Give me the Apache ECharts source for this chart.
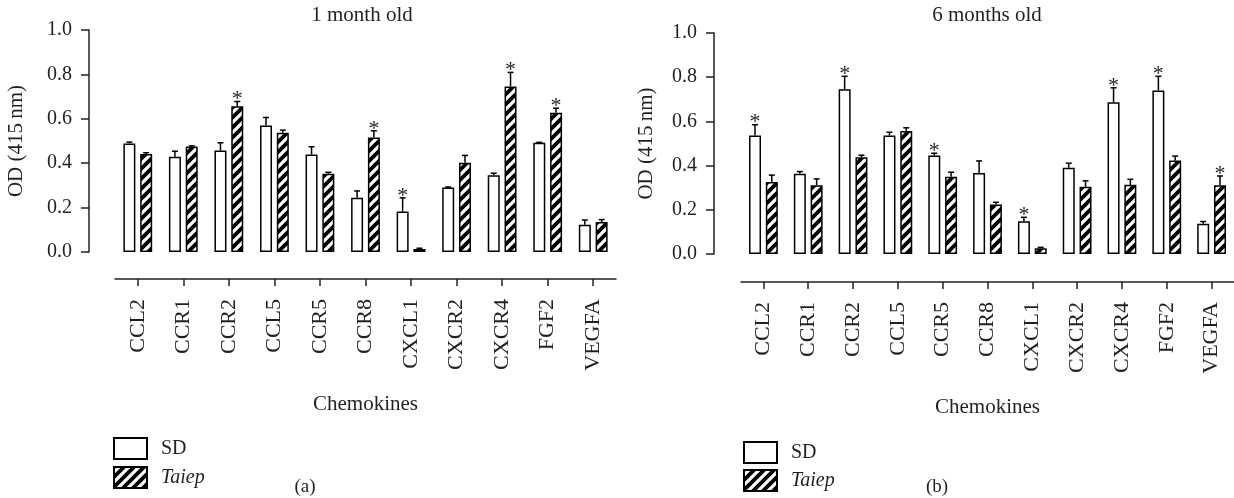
<!DOCTYPE html>
<html>
<head>
<meta charset="utf-8">
<script src="https://cdn.jsdelivr.net/npm/echarts@6/dist/echarts.min.js"></script>
<style>
html,body{margin:0;padding:0;background:#fff;}
#chart{width:1234px;height:498px;}
</style>
</head>
<body>
<div id="chart"></div>
<script>
// ---- data ----
const categories = ['CCL2','CCR1','CCR2','CCL5','CCR5','CCR8','CXCL1','CXCR2','CXCR4','FGF2','VEGFA'];
const yTicks = [0, 0.2, 0.4, 0.6, 0.8, 1.0];

// (a) 1 month old
const sd1 = [0.489, 0.429, 0.457, 0.570, 0.439, 0.244, 0.182, 0.290, 0.346, 0.492, 0.123];
const sd1Err = [0.006, 0.025, 0.035, 0.036, 0.035, 0.031, 0.062, 0.003, 0.009, 0.002, 0.021];
const taiep1 = [0.441, 0.475, 0.656, 0.537, 0.352, 0.516, 0.014, 0.402, 0.746, 0.627, 0.135];
const taiep1Err = [0.006, 0.003, 0.022, 0.012, 0.007, 0.030, 0.003, 0.033, 0.063, 0.021, 0.011];
const sd1Star = [0,0,0,0,0,0,1,0,0,0,0];
const taiep1Star = [0,0,1,0,0,1,0,0,1,1,0];

// (b) 6 months old
const sd6 = [0.536, 0.363, 0.745, 0.536, 0.446, 0.367, 0.148, 0.390, 0.687, 0.740, 0.137];
const sd6Err = [0.049, 0.010, 0.059, 0.015, 0.010, 0.054, 0.018, 0.021, 0.065, 0.064, 0.010];
const taiep6 = [0.326, 0.311, 0.438, 0.557, 0.349, 0.224, 0.026, 0.304, 0.313, 0.423, 0.311];
const taiep6Err = [0.031, 0.029, 0.009, 0.014, 0.021, 0.010, 0.004, 0.027, 0.025, 0.020, 0.042];
const sd6Star = [1,0,1,0,1,0,1,0,1,1,0];
const taiep6Star = [0,0,0,0,0,0,0,0,0,0,1];

// ---- style ----
const INK = '#231f20';
const FONT = '"Liberation Serif", "DejaVu Serif", serif';
const BAR_W = 12;
const BAR_GAP = 0.4;

function makeHatch() {
  const s = 10;
  const c = document.createElement('canvas');
  c.width = s; c.height = s;
  const ctx = c.getContext('2d');
  ctx.fillStyle = '#fff';
  ctx.fillRect(0, 0, s, s);
  ctx.strokeStyle = '#000';
  ctx.lineWidth = 3.8;
  ctx.beginPath();
  ctx.moveTo(-s, 2 * s); ctx.lineTo(2 * s, -s);
  ctx.moveTo(-s, s); ctx.lineTo(s, -s);
  ctx.moveTo(0, 2 * s); ctx.lineTo(2 * s, 0);
  ctx.stroke();
  return c;
}
const hatch = { image: makeHatch(), repeat: 'repeat' };

const chart = echarts.init(document.getElementById('chart'), null, { renderer: 'canvas' });

function xAxisOf(gridIndex, offset) {
  return {
    type: 'category', gridIndex, data: categories, offset,
    boundaryGap: true,
    axisLine: { show: true, onZero: false, lineStyle: { color: INK, width: 1.5 } },
    axisTick: { show: true, interval: 0, alignWithLabel: true, inside: false, length: 7, lineStyle: { color: INK, width: 1.5 } },
    axisLabel: { rotate: 90, margin: 20, color: INK, fontFamily: FONT, fontSize: 22, interval: 0 },
    name: 'Chemokines', nameLocation: 'middle', nameGap: 115,
    nameTextStyle: { color: INK, fontFamily: FONT, fontSize: 21 }
  };
}
function yAxisOf(gridIndex, offset, nameGap) {
  return {
    type: 'value', gridIndex, min: yTicks[0], max: yTicks[yTicks.length - 1], interval: 0.2, offset,
    splitLine: { show: false },
    axisLine: { show: true, onZero: false, lineStyle: { color: INK, width: 1.5 } },
    axisTick: { show: true, length: 8, lineStyle: { color: INK, width: 1.5 } },
    axisLabel: { margin: 17, color: INK, fontFamily: FONT, fontSize: 20, formatter: v => v.toFixed(1) },
    name: 'OD (415\u2009nm)', nameLocation: 'middle', nameGap,
    nameTextStyle: { color: INK, fontFamily: FONT, fontSize: 21 }
  };
}

function barSeries(name, axisIdx, values, fill) {
  return {
    type: 'bar', name, xAxisIndex: axisIdx, yAxisIndex: axisIdx,
    data: values, barWidth: BAR_W, barGap: (BAR_GAP * 100) + '%',
    itemStyle: { color: fill, borderColor: '#000', borderWidth: 1.5 },
    emphasis: { disabled: true }, animation: false
  };
}

function errSeries(axisIdx, values, errs, stars, side) {
  const data = values.map((v, i) => [i, v, errs[i], stars[i]]);
  return {
    type: 'custom', name: 'err', xAxisIndex: axisIdx, yAxisIndex: axisIdx,
    data, animation: false, z: 5, clip: false,
    renderItem(params, api) {
      const i = api.value(0), v = api.value(1), e = api.value(2), st = api.value(3);
      const off = side * BAR_W * (1 + BAR_GAP) / 2;
      const b = api.coord([i, v]);
      const t = api.coord([i, v + e]);
      const x = b[0] + off;
      const children = [
        { type: 'line', shape: { x1: x, y1: b[1], x2: x, y2: t[1] }, style: { stroke: '#000', lineWidth: 1.5 } },
        { type: 'line', shape: { x1: x - 3, y1: t[1], x2: x + 3, y2: t[1] }, style: { stroke: '#000', lineWidth: 1.5 } }
      ];
      if (st) {
        children.push({ type: 'text', style: { text: '*', x: x, y: t[1] + 9, textAlign: 'center', textVerticalAlign: 'bottom', fill: INK, font: '22px ' + FONT } });
      }
      return { type: 'group', children };
    }
  };
}

function legendItem(name, left, top) {
  return {
    orient: 'vertical', left, top, padding: 0, icon: 'rect', itemWidth: 33, itemHeight: 21, itemGap: 9,
    data: [name], selectedMode: false,
    textStyle: {
      color: INK, fontFamily: FONT, fontSize: 20,
      rich: {
        n: { fontFamily: FONT, fontSize: 20, color: INK, padding: [0, 0, 0, 9] },
        i: { fontStyle: 'italic', fontFamily: FONT, fontSize: 20, color: INK, padding: [0, 0, 0, 9] }
      }
    },
    formatter: n => n === 'Taiep' ? '{i|Taiep}' : '{n|' + n + '}'
  };
}

const option = {
  backgroundColor: '#fff',
  animation: false,
  grid: [
    { left: 115, top: 30, width: 501, height: 222 },
    { left: 741, top: 33, width: 507, height: 221 }
  ],
  xAxis: [xAxisOf(0, 27), xAxisOf(1, 28)],
  yAxis: [yAxisOf(0, 26, 62), yAxisOf(1, 27, 57)],
  legend: [
    legendItem('SD', 113, 437),
    legendItem('Taiep', 113, 466),
    legendItem('SD', 743, 441),
    legendItem('Taiep', 743, 469)
  ],
  graphic: [
    { type: 'text', x: 362, y: 15, style: { text: '1 month old', textAlign: 'center', textVerticalAlign: 'middle', fill: INK, font: '21px ' + FONT } },
    { type: 'text', x: 987, y: 15, style: { text: '6 months old', textAlign: 'center', textVerticalAlign: 'middle', fill: INK, font: '21px ' + FONT } },
    { type: 'text', x: 305, y: 487, style: { text: '(a)', textAlign: 'center', textVerticalAlign: 'middle', fill: INK, font: '19px ' + FONT } },
    { type: 'text', x: 937, y: 487, style: { text: '(b)', textAlign: 'center', textVerticalAlign: 'middle', fill: INK, font: '19px ' + FONT } }
  ],
  series: [
    barSeries('SD', 0, sd1, '#fff'),
    barSeries('Taiep', 0, taiep1, hatch),
    barSeries('SD', 1, sd6, '#fff'),
    barSeries('Taiep', 1, taiep6, hatch),
    errSeries(0, sd1, sd1Err, sd1Star, -1),
    errSeries(0, taiep1, taiep1Err, taiep1Star, 1),
    errSeries(1, sd6, sd6Err, sd6Star, -1),
    errSeries(1, taiep6, taiep6Err, taiep6Star, 1)
  ]
};
chart.setOption(option);
</script>
</body>
</html>
